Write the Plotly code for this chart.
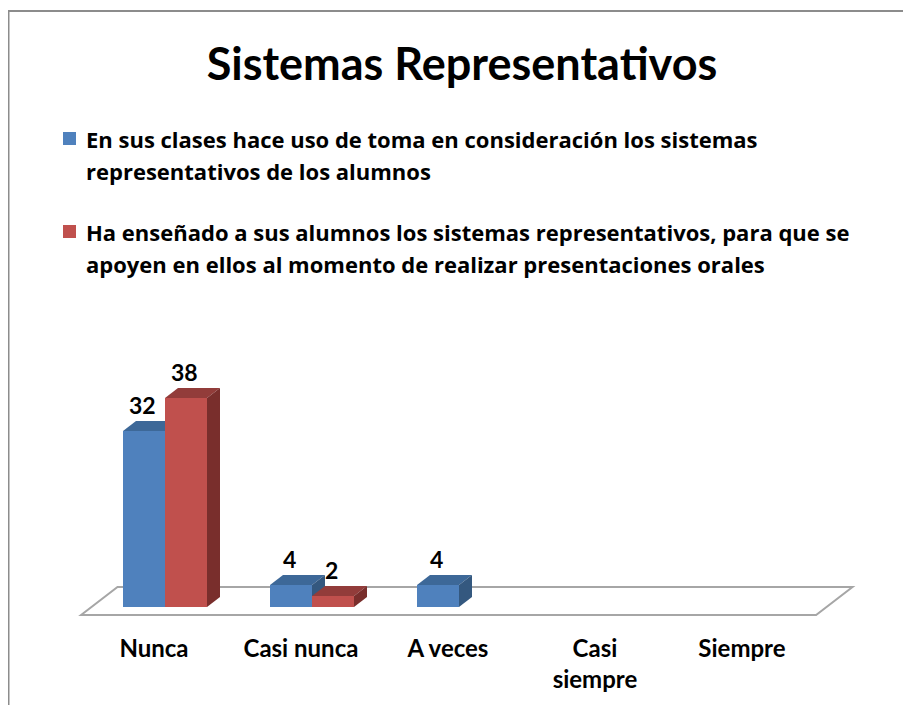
import plotly.graph_objects as go

# ---------------- data ----------------
categories = ["Nunca", "Casi nunca", "A veces", "Casi siempre", "Siempre"]
tick_labels = ["Nunca", "Casi nunca", "A veces", "Casi<br>siempre", "Siempre"]
legend_lines_1 = ["En sus clases hace uso de toma en consideración los sistemas",
                  "representativos de los alumnos"]
legend_lines_2 = ["Ha enseñado a sus alumnos los sistemas representativos, para que se",
                  "apoyen en ellos al momento de realizar presentaciones orales"]
serie_1 = [32, 4, 4, 0, 0]
serie_2 = [38, 2, 0, 0, 0]
title_text = "Sistemas Representativos"

# ---------------- style / layout constants ----------------
OFF = 8             # page body margin of the html page
W_FIG, H_FIG = 911, 705
ML, MR, MT, MB = 40, 19, 352, 85
PW = W_FIG - ML - MR
PH = H_FIG - MT - MB
CAT_PX = 147.0      # pixels per category
UNIT_PX = 5.5       # pixels per value unit
X0_PX = 165.0 - OFF  # pixel of category 0 centre
Y0_PX = 607.0 - OFF  # pixel of value 0
x_range = [(ML - X0_PX) / CAT_PX, (W_FIG - MR - X0_PX) / CAT_PX]
y_range = [(Y0_PX - (H_FIG - MB)) / UNIT_PX, (Y0_PX - MT) / UNIT_PX]

BAR_W = 0.2857
DX = 13.0 / CAT_PX          # depth offset in x units
DY = 10.0 / UNIT_PX         # depth offset in y units
FONT = "Lato, 'Open Sans', sans-serif"
LEG_FONT = "'Open Sans', Lato, sans-serif"

colors = [
    dict(front="#4F81BD", top="#3D6898", side="#34587F"),
    dict(front="#C0504D", top="#923C3A", side="#792E2C"),
]
series = [serie_1, serie_2]
names = [" ".join(legend_lines_1), " ".join(legend_lines_2)]
offsets = [-BAR_W, 0.0]


def px_x(px):
    return (px - OFF - ML) / PW


def px_y(py):
    return (H_FIG - MB - (py - OFF)) / PH


xs = list(range(len(categories)))
fig = go.Figure()
shapes = []

# floor (drawn first, below everything)
n = len(categories)
fl, fr = -0.5, n - 0.5
ff, fb = -0.8, 2.0
floor_pts = [(fl + ff * DX, ff * DY), (fr + ff * DX, ff * DY),
             (fr + fb * DX, fb * DY), (fl + fb * DX, fb * DY)]
path = "M " + " L ".join(f"{a},{b}" for a, b in floor_pts) + " Z"
shapes.append(dict(type="path", path=path, xref="x", yref="y", layer="below",
                   fillcolor="white", line=dict(color="#A6A6A6", width=2)))

# 3D faces (top / side) for each bar, computed from the data
for s, vals in enumerate(series):
    for i, v in zip(xs, vals):
        if v <= 0:
            continue
        x0 = i + offsets[s]
        x1 = x0 + BAR_W
        top = [(x0, v), (x1, v), (x1 + DX, v + DY), (x0 + DX, v + DY)]
        side = [(x1, 0), (x1, v), (x1 + DX, v + DY), (x1 + DX, DY)]
        for pts, key in ((top, "top"), (side, "side")):
            p = "M " + " L ".join(f"{a},{b}" for a, b in pts) + " Z"
            shapes.append(dict(type="path", path=p, xref="x", yref="y", layer="below",
                               fillcolor=colors[s][key], line=dict(width=0)))

# front faces as bars
for s, vals in enumerate(series):
    fig.add_trace(go.Bar(x=xs, y=vals, offset=offsets[s], width=BAR_W,
                         name=names[s], marker=dict(color=colors[s]["front"], line=dict(width=0)),
                         showlegend=False, hoverinfo="x+y"))

annotations = []
# data labels
for s, vals in enumerate(series):
    for i, v in zip(xs, vals):
        if v <= 0:
            continue
        annotations.append(dict(x=i + offsets[s] + BAR_W / 2 - 0.01, y=v + DY, xref="x", yref="y",
                                text=f"<b>{v}</b>", showarrow=False, yanchor="bottom",
                                yshift=0, font=dict(family=FONT, size=23, color="black")))

# legend (manual, to reproduce wrapped entries)
legend_items = [(legend_lines_1, [139, 171]), (legend_lines_2, [232, 264])]
for s, (lines, ys) in enumerate(legend_items):
    for line, yy in zip(lines, ys):
        annotations.append(dict(x=px_x(84), y=px_y(yy), xref="paper", yref="paper",
                                text=f"<b>{line}</b>", showarrow=False, xanchor="left",
                                yanchor="middle", font=dict(family=LEG_FONT, size=22, color="black")))
    shapes.append(dict(type="rect", xref="paper", yref="paper",
                       x0=px_x(63), x1=px_x(76), y0=px_y(ys[0] - 7), y1=px_y(ys[0] + 6),
                       fillcolor=colors[s]["front"], line=dict(width=0)))

# chart frame
shapes.append(dict(type="line", xref="paper", yref="paper", x0=px_x(8.5), x1=px_x(8.5),
                   y0=px_y(10), y1=px_y(H_FIG + 20), line=dict(color="#8C8C8C", width=2)))
shapes.append(dict(type="line", xref="paper", yref="paper", x0=px_x(7.5), x1=px_x(W_FIG + 20),
                   y0=px_y(11), y1=px_y(11), line=dict(color="#8C8C8C", width=2)))

fig.update_layout(
    width=W_FIG, height=H_FIG,
    margin=dict(l=ML, r=MR, t=MT, b=MB, pad=0, autoexpand=False),
    paper_bgcolor="white", plot_bgcolor="white",
    barmode="overlay",
    showlegend=False,
    title=dict(text=f"<b>{title_text}</b>", x=(462 - OFF) / W_FIG, xanchor="center",
               yref="container", y=1 - (64 - OFF) / H_FIG, yanchor="middle",
               font=dict(family=FONT, size=45, color="black")),
    xaxis=dict(range=x_range, tickmode="array",
               tickvals=[i - 0.85 * DX for i in xs],
               ticktext=[f"<b>{t}</b>" for t in tick_labels],
               showgrid=False, zeroline=False, showline=False, ticks="",
               automargin=False,
               tickfont=dict(family=FONT, size=24, color="black"),
               ticklabelstandoff=4),
    yaxis=dict(range=y_range, showgrid=False, zeroline=False, showline=False,
               showticklabels=False, ticks="", automargin=False),
    shapes=shapes,
    annotations=annotations,
)

fig.write_html("out.html")
